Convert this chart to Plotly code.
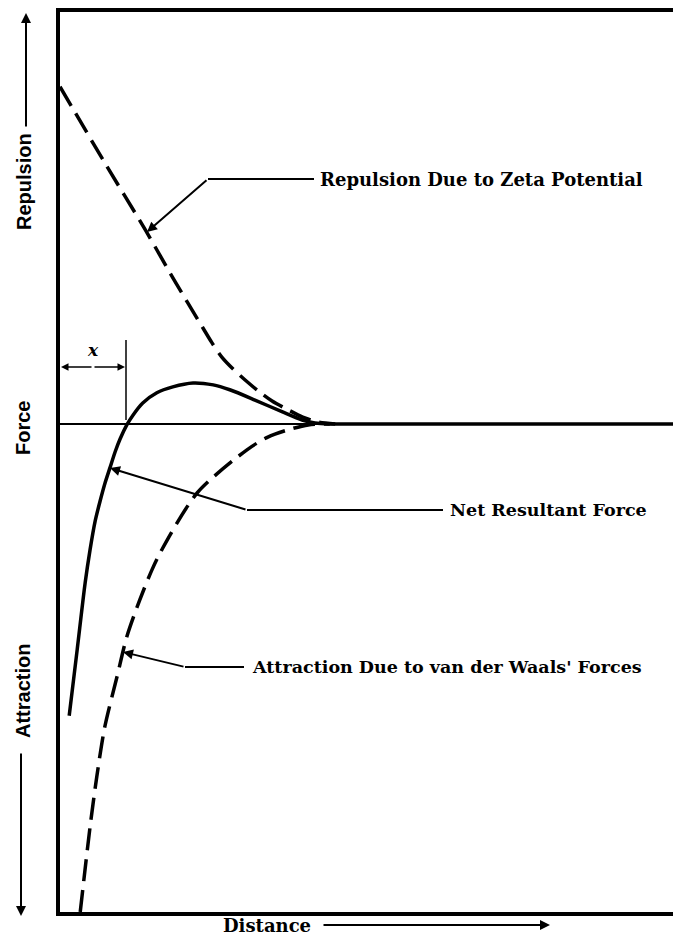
import plotly.graph_objects as go

# ---------------- data ----------------
# distance in arbitrary units 0..100, force in arbitrary units (0 = neutral)
rep_distance = [0.0, 7.3, 13.9, 18.8, 23.3, 24.8, 26.4, 28.2, 30.2, 32.3, 34.6, 37.2, 39.6, 42.1, 44.9]
rep_force = [69.1, 53.5, 39.8, 29.1, 19.7, 16.6, 13.7, 11.3, 9.0, 6.8, 4.7, 2.9, 1.4, 0.4, 0.0]

att_distance = [3.3, 4.9, 6.0, 7.3, 9.3, 10.9, 13.0, 15.0, 16.6, 22.4, 30.5, 33.9, 37.2, 40.5, 44.0]
att_force = [-100.0, -82.6, -72.3, -62.1, -51.8, -43.6, -36.1, -29.9, -25.8, -14.1, -5.3, -2.7, -1.2, -0.2, 0.0]

net_distance = [1.5, 2.8, 4.1, 4.9, 5.7, 6.5, 7.3, 8.2, 9.0, 9.8, 10.9, 11.9, 13.5, 15.8,
                18.4, 21.7, 25.0, 27.7, 31.8, 36.2, 39.5, 41.6, 44.0, 50.0, 100.0]
net_force = [-59.8, -46.3, -32.6, -25.8, -20.1, -16.0, -12.3, -8.8, -5.7, -3.1, -0.2, 1.8, 4.3, 6.4,
             7.6, 8.4, 8.0, 7.0, 4.9, 2.5, 0.8, 0.2, 0.0, 0.0, 0.0]

label_repulsion = "Repulsion Due to Zeta Potential"
label_net = "Net Resultant Force"
label_attraction = "Attraction Due to van der Waals' Forces"
axis_labels = ["Repulsion", "Force", "Attraction", "Distance"]

# ---------------- layout geometry ----------------
W, H = 673, 935
L, T = 60, 12
PW, PH = 613, 900


def px(x):
    return (x - L) / PW


def py(y):
    return (T + PH - y) / PH


SERIF = "DejaVu Serif"
SANS = "Liberation Sans, Arial, sans-serif"

fig = go.Figure()

DASH = "22px,9px"
fig.add_trace(go.Scatter(x=rep_distance, y=rep_force, mode="lines",
                         line=dict(color="black", width=3.5, dash=DASH, shape="spline", smoothing=0.8),
                         hoverinfo="skip", showlegend=False))
fig.add_trace(go.Scatter(x=att_distance, y=att_force, mode="lines",
                         line=dict(color="black", width=3.5, dash=DASH, shape="spline", smoothing=0.8),
                         hoverinfo="skip", showlegend=False))
fig.add_trace(go.Scatter(x=net_distance, y=net_force, mode="lines",
                         line=dict(color="black", width=3.5, shape="spline", smoothing=0.8),
                         hoverinfo="skip", showlegend=False))

annotations = []
shapes = []


def arrow(hx, hy, tx, ty, width=2, size=1.0, head=2):
    annotations.append(dict(x=px(hx), y=py(hy), xref="paper", yref="paper",
                            ax=tx - hx, ay=ty - hy, text="", showarrow=True,
                            arrowhead=head, arrowsize=size, arrowwidth=width,
                            arrowcolor="black", standoff=0, startstandoff=0))


def seg(x0, y0, x1, y1, width=2):
    shapes.append(dict(type="line", xref="paper", yref="paper",
                       x0=px(x0), y0=py(y0), x1=px(x1), y1=py(y1),
                       line=dict(color="black", width=width)))


def text(x, y, s, size=17.5, family=SERIF, anchor="left", angle=0, italic=False):
    annotations.append(dict(x=px(x), y=py(y), xref="paper", yref="paper",
                            text=s, showarrow=False, xanchor=anchor, yanchor="middle",
                            textangle=angle,
                            font=dict(family=family, size=size, color="black", weight="bold",
                                      style="italic" if italic else "normal")))


# leaders
seg(208, 179, 314, 179)
arrow(147, 232, 208, 179)
text(318, 179, label_repulsion, size=18)

NET_Y = 510
seg(247, NET_Y, 443, NET_Y)
arrow(110, 468, 247, NET_Y)
text(448, NET_Y, label_net)

seg(185, 667, 244, 667)
arrow(123, 652, 185, 667)
text(250, 667, label_attraction)

# x marker
seg(126, 340, 126, 420, width=1.5)
arrow(61, 367, 93, 367, width=1.5)
arrow(125, 367, 93, 367, width=1.5)
text(93, 350, "x", size=17, anchor="center", italic=True)

# side labels
text(24, 182, axis_labels[0], size=20, family=SANS, anchor="center", angle=-90)
arrow(26, 13, 26, 128)
text(23, 428, axis_labels[1], size=20, family=SANS, anchor="center", angle=-90)
text(23, 691, axis_labels[2], size=20, family=SANS, anchor="center", angle=-90)
arrow(21, 916, 21, 752)
text(267, 925, axis_labels[3], size=18, anchor="center")
arrow(550, 925, 322, 925)

fig.update_layout(
    width=W, height=H,
    margin=dict(l=L, r=W - L - PW, t=T, b=H - T - PH, pad=0),
    paper_bgcolor="white", plot_bgcolor="white",
    annotations=annotations, shapes=shapes,
    xaxis=dict(range=[0, 100], showline=True, linewidth=3.5, linecolor="black", mirror=True,
               showgrid=False, zeroline=False, showticklabels=False, ticks=""),
    yaxis=dict(range=[-100, 84.4], showline=True, linewidth=3.5, linecolor="black", mirror=False,
               showgrid=False, zeroline=True, zerolinewidth=2, zerolinecolor="black",
               showticklabels=False, ticks=""),
)

fig.write_html("out.html", config={"displayModeBar": False},
               post_script="document.body.style.margin='0px';")
